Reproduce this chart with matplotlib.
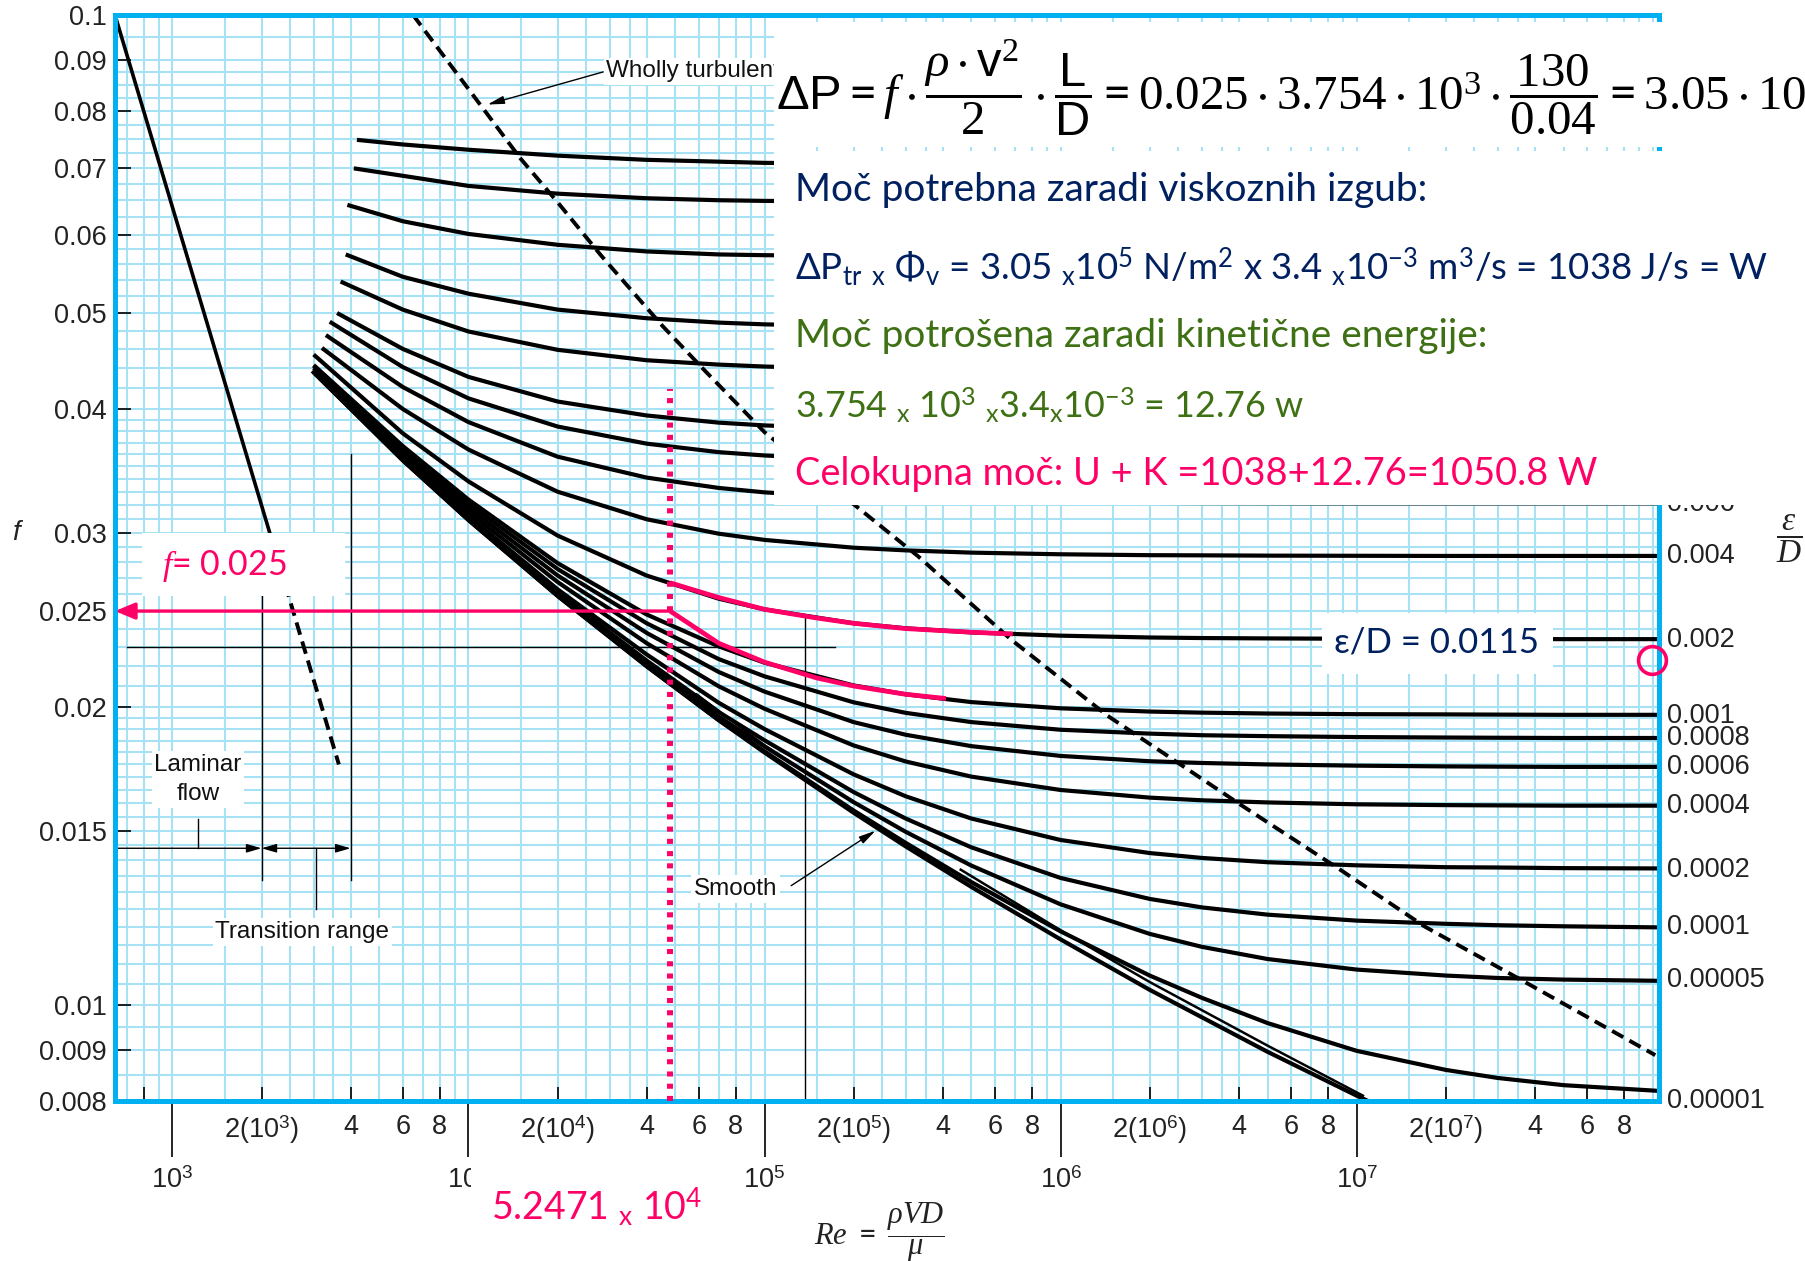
import numpy as np
import matplotlib
matplotlib.use("Agg")
import matplotlib.pyplot as plt
import matplotlib.ticker as mticker
from matplotlib.patches import Rectangle
from matplotlib.transforms import blended_transform_factory

plt.rcParams.update({
    'font.family': ['Liberation Sans', 'DejaVu Sans'],
    'mathtext.fontset': 'custom',
    'mathtext.rm': 'Lato',
    'mathtext.it': 'Liberation Serif:italic',
    'mathtext.bf': 'Lato:bold',
    'mathtext.sf': 'Liberation Sans',
    'mathtext.tt': 'Liberation Serif',
    'mathtext.cal': 'Liberation Serif:italic',
    'mathtext.fallback': 'stix',
})

# ------------------------------------------------------------------ data
RE_GRID = [6e3, 1e4, 2e4, 4e4, 7e4, 1e5, 2e5, 3e5, 5e5, 1e6, 2e6, 3e6, 5e6,
           1e7, 2e7, 3e7, 5e7, 1.05e8]

# right-hand relative roughness labels (the upper ones are hidden by the white panel)
EPS_LABELS = ["0.006", "0.004", "0.002", "0.001", "0.0008", "0.0006", "0.0004",
              "0.0002", "0.0001", "0.00005", "0.00001"]
EPS_LABEL_F = [0.0321, 0.0284, 0.0234, 0.0196, 0.0186, 0.0174, 0.0159,
               0.0137, 0.0120, 0.0106, 0.0080]

RE_START = [4.2e3, 4.1e3, 3.9e3, 3.85e3, 3.7e3, 3.6e3, 3.4e3, 3.3e3, 3.2e3,
            3.0e3, 3.0e3, 3.0e3, 3.0e3, 3.0e3, 3.0e3, 3.0e3, 3.0e3, 3.0e3]
F_START = [0.0748, 0.0700, 0.0643, 0.0573, 0.0538, 0.0500, 0.0490, 0.0475, 0.0461,
           0.0454, 0.0443, 0.0442, 0.0440, 0.0438, 0.0437, 0.04365, 0.0436, 0.04357]

F_E0500 = [0.0740, 0.0731, 0.0721, 0.0714, 0.0711, 0.0709, 0.0708, 0.0708, 0.0708, 0.0708,
           0.0708, 0.0708, 0.0708, 0.0708, 0.0708, 0.0708, 0.0708, 0.0708]
F_E0400 = [0.0688, 0.0672, 0.0660, 0.0653, 0.0650, 0.0649, 0.0648, 0.0647, 0.0647, 0.0647,
           0.0647, 0.0647, 0.0647, 0.0647, 0.0647, 0.0647, 0.0647, 0.0647]
F_E0300 = [0.0619, 0.0601, 0.0586, 0.0577, 0.0573, 0.0572, 0.0571, 0.0570, 0.0570, 0.0570,
           0.0570, 0.0570, 0.0570, 0.0570, 0.0570, 0.0570, 0.0570, 0.0570]
F_E0200 = [0.0544, 0.0523, 0.0504, 0.0494, 0.0489, 0.0487, 0.0485, 0.0485, 0.0484, 0.0484,
           0.0484, 0.0484, 0.0484, 0.0484, 0.0484, 0.0484, 0.0484, 0.0484]
F_E0150 = [0.0504, 0.0479, 0.0459, 0.0448, 0.04435, 0.04415, 0.04393, 0.04384, 0.04378, 0.04373,
           0.0437, 0.0437, 0.0437, 0.0437, 0.0437, 0.0437, 0.0437, 0.0437]
F_E0100 = [0.0460, 0.0431, 0.0407, 0.0394, 0.03875, 0.0385, 0.0382, 0.0381, 0.0380, 0.03795,
           0.03792, 0.0379, 0.0379, 0.0379, 0.0379, 0.0379, 0.0379, 0.0379]
F_E0080 = [0.0441, 0.0410, 0.0384, 0.0369, 0.03618, 0.0359, 0.03555, 0.03543, 0.03533, 0.03527,
           0.03523, 0.03522, 0.03521, 0.0352, 0.0352, 0.0352, 0.0352, 0.0352]
F_E0060 = [0.0421, 0.0388, 0.0358, 0.0341, 0.03329, 0.03295, 0.03254, 0.0324, 0.03229, 0.0322,
           0.03215, 0.03214, 0.03213, 0.03212, 0.03212, 0.03212, 0.03212, 0.03212]
F_E0040 = [0.0400, 0.0364, 0.0330, 0.03095, 0.02993, 0.0295, 0.02897, 0.02879, 0.02864, 0.02853,
           0.02847, 0.02846, 0.02844, 0.02843, 0.02842, 0.02842, 0.02842, 0.02842]
F_E0020 = [0.0378, 0.0338, 0.0298, 0.02715, 0.02573, 0.0251, 0.0243, 0.02402, 0.02379, 0.02361,
           0.02351, 0.02348, 0.02346, 0.02344, 0.02343, 0.02343, 0.02342, 0.02342]
F_E0010 = [0.0367, 0.0324, 0.02795, 0.0248, 0.02303, 0.02217, 0.02103, 0.0206, 0.02023, 0.01994,
           0.01979, 0.01974, 0.0197, 0.01967, 0.01966, 0.01965, 0.01964, 0.01964]
F_E0008 = [0.0365, 0.0321, 0.02757, 0.0243, 0.02236, 0.02148, 0.02022, 0.01973, 0.01931, 0.01897,
           0.0188, 0.01873, 0.01869, 0.01865, 0.01863, 0.01862, 0.01861, 0.01861]
F_E0006 = [0.03624, 0.0318, 0.02716, 0.02376, 0.0217, 0.02073, 0.01931, 0.01875, 0.01826, 0.01785,
           0.01763, 0.01756, 0.0175, 0.01745, 0.01742, 0.01741, 0.0174, 0.0174]
F_E0004 = [0.0360, 0.0315, 0.02675, 0.0232, 0.02099, 0.01992, 0.01829, 0.01762, 0.01701, 0.01649,
           0.0162, 0.0161, 0.01602, 0.01595, 0.01592, 0.01591, 0.0159, 0.0159]
F_E0002 = [0.03576, 0.0312, 0.0263, 0.0226, 0.0202, 0.0190, 0.0171, 0.01625, 0.01543, 0.01468,
           0.01424, 0.01408, 0.01394, 0.01384, 0.01378, 0.01377, 0.01375, 0.01374]
F_E0001 = [0.03565, 0.0310, 0.0261, 0.02228, 0.01977, 0.01851, 0.01641, 0.01543, 0.01443, 0.01344,
           0.0128, 0.01255, 0.01234, 0.01217, 0.01208, 0.01204, 0.01201, 0.01198]
F_E00005 = [0.03557, 0.03095, 0.02599, 0.02212, 0.01956, 0.01825, 0.01603, 0.01496, 0.01383, 0.01264,
            0.0118, 0.01145, 0.01113, 0.01086, 0.01071, 0.01065, 0.01061, 0.01058]
F_E00001 = [0.0355, 0.0309, 0.0259, 0.0220, 0.0194, 0.01804, 0.01572, 0.01458, 0.01331, 0.01187,
            0.01071, 0.01017, 0.00959, 0.00899, 0.0086, 0.00844, 0.0083, 0.00819]

RE_SMOOTH = [3e3, 6e3, 1e4, 2e4, 4e4, 7e4, 1e5, 2e5, 3e5, 5e5, 1e6, 2e6, 3e6, 5e6, 1e7, 2e7]
F_SMOOTH = [0.04355, 0.0355, 0.0309, 0.0259, 0.02198, 0.0194, 0.01799, 0.01564, 0.01446,
            0.01316, 0.01165, 0.01036, 0.00972, 0.00897, 0.0081, 0.00735]

# doubled (scan) line pieces next to the smooth curve
RE_DBL1 = [5.9e4, 1.0e5, 1.45e5]
F_DBL1 = [0.0206, 0.0183, 0.0170]
RE_DBL2 = [4.6e5, 1e6, 2e6, 5e6, 1.05e7]
F_DBL2 = [0.0137, 0.0119, 0.01055, 0.0091, 0.0081]

# laminar flow
RE_LAM = [640, 2300]
F_LAM = [0.100, 0.0278]
RE_LAM_DASH = [2300, 3650]
F_LAM_DASH = [0.0278, 0.0175]

# "wholly turbulent" boundary
RE_WT = [6.5e3, 1.5e4, 2.0e4, 2.8e4, 4.5e4, 6.3e4, 1.0e5, 3.3e5, 6.8e5, 1.44e6, 4.1e6, 8.8e6, 1.7e7, 3.6e7, 1.02e8]
F_WT = [0.100, 0.0716, 0.0647, 0.0572, 0.0486, 0.0437, 0.0379, 0.0284, 0.0234, 0.0196, 0.0159, 0.0137, 0.0120, 0.0106, 0.0089]

# thin black guide lines of the original chart
RE_HLINE = [700, 1.73e5]
F_HLINE = 0.0230
RE_VLINES = [2e3, 4e3, 1.37e5]
F_VLINES_TOP = [0.0270, 0.0360, 0.0247]
F_VLINES_BOT = [0.01337, 0.01337, 0.008]
F_RANGE_ARROW = 0.0144
RE_RANGE = [640, 2e3, 4e3]
RE_LAM_STUB, F_LAM_STUB = 1.22e3, [0.0154, 0.0144]
RE_TR_STUB, F_TR_STUB = 3.05e3, [0.0144, 0.0125]

# pink (worked example)
RE_PINK = 4.8e4
F_PINK = 0.025
F_PINK_TOP = 0.0419
RE_PU = [4.8e4, 7e4, 1e5, 1.5e5, 2e5, 3e5, 5e5, 6.9e5]
F_PU = [0.0267, 0.0258, 0.0251, 0.0246, 0.0243, 0.0240, 0.0238, 0.0237]
RE_PL = [4.8e4, 7e4, 1e5, 1.5e5, 2e5, 3e5, 4.1e5]
F_PL = [0.0250, 0.0232, 0.0222, 0.0214, 0.0210, 0.0206, 0.0204]
F_CIRCLE = 0.0223

# axis ticks
F_TICKS = [0.1, 0.09, 0.08, 0.07, 0.06, 0.05, 0.04, 0.03, 0.025, 0.02, 0.015, 0.01, 0.009, 0.008]
F_TICK_LABELS = ["0.1", "0.09", "0.08", "0.07", "0.06", "0.05", "0.04", "0.03", "0.025",
                 "0.02", "0.015", "0.01", "0.009", "0.008"]
RE_MAJOR = [1e3, 1e4, 1e5, 1e6, 1e7]
RE_MAJOR_LABELS = [r"10$^{\mathsf{%d}}$" % k for k in [3, 4, 5, 6, 7]]
RE_MINOR = [8e2, 2e3, 4e3, 6e3, 8e3, 2e4, 4e4, 6e4, 8e4, 2e5, 4e5, 6e5, 8e5,
            2e6, 4e6, 6e6, 8e6, 2e7, 4e7, 6e7, 8e7]
RE_MINOR_LABELS = [""]
for k in [3, 4, 5, 6, 7]:
    RE_MINOR_LABELS += [r"2(10$^{\mathsf{%d}}$)" % k, "4", "6", "8"]

GRID_MULT_X = [1, 1.5, 2, 2.5, 3, 3.5, 4, 5, 6, 7, 8, 9]

# ------------------------------------------------------------------ styling
W, H = 1806, 1261
CYAN = "#00B0F0"
GRID_C = "#A6E1F4"
PINK = "#FF0066"
NAVY = "#002060"
GREEN = "#3E7014"
XMIN, XMAX = 640, 1.05e8
YMIN, YMAX = 0.008, 0.1
CURVE_LW = 3.0

fig = plt.figure(figsize=(W / 100, H / 100), dpi=100)
fig.patch.set_facecolor("white")
ax = fig.add_axes([115 / W, 1 - 1101 / H, (1659 - 115) / W, (1101 - 15) / H])
ax.set_facecolor("white")
ax.set_xscale("log")
ax.set_yscale("log")
ax.set_xlim(XMIN, XMAX)
ax.set_ylim(YMIN, YMAX)

# grid
gx = [m * 10 ** d for d in range(2, 9) for m in GRID_MULT_X if XMIN <= m * 10 ** d <= XMAX]
gy = np.concatenate([np.arange(0.008, 0.01999, 0.0005), np.arange(0.02, 0.03999, 0.001),
                     np.arange(0.04, 0.05999, 0.002), np.arange(0.06, 0.08999, 0.0025),
                     [0.09, 0.095, 0.1]])
ax.vlines(gx, YMIN, YMAX, colors=GRID_C, lw=1.5, zorder=0.5)
ax.hlines(gy, XMIN, XMAX, colors=GRID_C, lw=1.5, zorder=0.5)

for sp in ax.spines.values():
    sp.set_color(CYAN)
    sp.set_linewidth(3.6)
    sp.set_zorder(6)

# ticks
ax.yaxis.set_major_locator(mticker.FixedLocator(F_TICKS))
ax.yaxis.set_major_formatter(mticker.FixedFormatter(F_TICK_LABELS))
ax.yaxis.set_minor_locator(mticker.NullLocator())
ax.tick_params(axis="y", which="major", direction="in", length=11.5, width=1.2,
               pad=6, labelsize=19.5, labelcolor="#222222", color="black")
ax.xaxis.set_major_locator(mticker.FixedLocator(RE_MAJOR))
ax.xaxis.set_major_formatter(mticker.FixedFormatter(RE_MAJOR_LABELS))
ax.xaxis.set_minor_locator(mticker.FixedLocator(RE_MINOR))
ax.xaxis.set_minor_formatter(mticker.FixedFormatter(RE_MINOR_LABELS))
ax.tick_params(axis="x", which="major", direction="out", length=40, width=1.2,
               pad=8, labelsize=19.5, labelcolor="#222222", color="black")
ax.tick_params(axis="x", which="minor", direction="in", length=10, width=1.2,
               pad=9, labelsize=19.5, labelcolor="#222222", color="black")

# curves
curves = [F_E0500, F_E0400, F_E0300, F_E0200, F_E0150, F_E0100, F_E0080, F_E0060,
          F_E0040, F_E0020, F_E0010, F_E0008, F_E0006, F_E0004, F_E0002, F_E0001,
          F_E00005, F_E00001]
for r0, f0, fl in zip(RE_START, F_START, curves):
    ax.plot([r0] + RE_GRID, [f0] + fl, color="black", lw=CURVE_LW,
            solid_joinstyle="round", solid_capstyle="butt", zorder=3)
ax.plot(RE_SMOOTH, F_SMOOTH, color="black", lw=CURVE_LW, solid_joinstyle="round", zorder=3)
ax.plot(RE_DBL1, F_DBL1, color="black", lw=1.6, zorder=3)
ax.plot(RE_DBL2, F_DBL2, color="black", lw=1.8, zorder=3)

ax.plot(RE_LAM, F_LAM, color="black", lw=2.6, zorder=3)
ax.plot(RE_LAM_DASH, F_LAM_DASH, color="black", lw=2.8, dashes=(3.3, 1.8), zorder=3)
ax.plot(RE_WT, F_WT, color="black", lw=2.8, dashes=(3.3, 1.8), zorder=3)

# thin guide lines
ax.plot(RE_HLINE, [F_HLINE, F_HLINE], color="black", lw=1.0, zorder=2)
for r, t, b in zip(RE_VLINES, F_VLINES_TOP, F_VLINES_BOT):
    ax.plot([r, r], [b, t], color="black", lw=1.0, zorder=2)
ax.plot([RE_LAM_STUB] * 2, F_LAM_STUB, color="black", lw=1.0, zorder=2)
ax.plot([RE_TR_STUB] * 2, F_TR_STUB, color="black", lw=1.0, zorder=2)
ax.annotate("", xy=(RE_RANGE[1], F_RANGE_ARROW), xytext=(RE_RANGE[0], F_RANGE_ARROW),
            arrowprops=dict(arrowstyle="-|>,head_length=0.45,head_width=0.13", lw=1.0,
                            color="black", shrinkA=0, shrinkB=0, mutation_scale=20), zorder=2)
ax.annotate("", xy=(RE_RANGE[2], F_RANGE_ARROW), xytext=(RE_RANGE[1], F_RANGE_ARROW),
            arrowprops=dict(arrowstyle="<|-|>,head_length=0.45,head_width=0.13", lw=1.0,
                            color="black", shrinkA=0, shrinkB=0, mutation_scale=20), zorder=2)

lab = dict(fontsize=17.5, color="#111111", zorder=4,
           bbox=dict(facecolor="white", edgecolor="none", pad=2))
ax.text(1.22e3, 0.0169, "Laminar\nflow", ha="center", va="center", linespacing=1.4, **lab)
ax.text(2.75e3, 0.01185, "Transition range", ha="center", va="center", **lab)
ax.text(8.0e4, 0.0131, "Smooth", ha="center", va="center", **lab)
ax.text(2.92e4, 0.0877, "Wholly turbulent", ha="left", va="center", **lab)
ax.annotate("", xy=(2.37e5, 0.0150), xytext=(1.23e5, 0.0132),
            arrowprops=dict(arrowstyle="-|>,head_length=0.5,head_width=0.12", lw=1.0,
                            color="black", shrinkA=0, shrinkB=0, mutation_scale=20), zorder=4)
ax.annotate("", xy=(1.16e4, 0.0812), xytext=(2.85e4, 0.0876),
            arrowprops=dict(arrowstyle="-|>,head_length=0.5,head_width=0.12", lw=1.0,
                            color="black", shrinkA=0, shrinkB=0, mutation_scale=20), zorder=4)

# right-hand epsilon/D labels
for s, f in zip(EPS_LABELS, EPS_LABEL_F):
    ax.annotate(s, xy=(1.0, f), xycoords=("axes fraction", "data"), xytext=(6, 0),
                textcoords="offset points", ha="left", va="center", fontsize=19.5,
                color="#222222", annotation_clip=False)

# ---- pink worked example
def fig_rect(x0, y0, x1, y1, target, z):
    r = Rectangle((x0 / W, 1 - y1 / H), (x1 - x0) / W, (y1 - y0) / H,
                  transform=fig.transFigure, facecolor="white", edgecolor="none",
                  zorder=z, clip_on=False)
    target.add_artist(r)

fig_rect(142, 533, 345, 596, ax, 5)      # box behind "f = 0.025"
fig_rect(1322, 613, 1553, 674, ax, 5)    # box behind "eps/D = 0.0115"

ax.plot([RE_PINK, RE_PINK], [YMIN, F_PINK_TOP], color=PINK, lw=4.3,
        linestyle=(0, (0.85, 1.2)), dash_capstyle="butt", zorder=7)
ax.annotate("", xy=(0.0, F_PINK), xycoords=("axes fraction", "data"),
            xytext=(RE_PINK, F_PINK), textcoords="data",
            arrowprops=dict(arrowstyle="-|>,head_length=0.6,head_width=0.25", lw=2.4,
                            color=PINK, shrinkA=0, shrinkB=0, mutation_scale=20), zorder=7)
ax.plot(RE_PU, F_PU, color=PINK, lw=3.4, solid_capstyle="butt", zorder=7)
ax.plot(RE_PL, F_PL, color=PINK, lw=3.4, solid_capstyle="butt", zorder=7)
ax.plot([0.9955], [F_CIRCLE], transform=blended_transform_factory(ax.transAxes, ax.transData),
        marker="o", ms=20, mfc="none", mec=PINK, mew=2.6, clip_on=False, zorder=8)

def ftext(x, y, s, **kw):
    return fig.text(x / W, 1 - y / H, s, **kw)

ftext(224, 566, r"$\mathit{f}$= 0.025", ha="center", va="center", fontsize=24.5,
      color=PINK, family="Lato", zorder=9)
ftext(1437, 643, "ε/D = 0.0115", ha="center", va="center", fontsize=25,
      color=NAVY, family=["Lato", "DejaVu Serif"], zorder=9)

# ---- white panel over the upper right with the calculation
fig_rect(774, 22, W, 147, fig, 10)
fig_rect(774, 151, W, 505, fig, 10)
fig_rect(1662, 140, W, 160, fig, 10)
fig_rect(471, 1165, 712, 1245, fig, 10)

EQ = (r"$\mathsf{\Delta P}=\mathit{f}\cdot\dfrac{\rho\cdot\mathsf{v}^{\mathtt{2}}}{\mathtt{2}}"
      r"\cdot\dfrac{\mathsf{L}}{\mathsf{D}}=\mathtt{0.025}\cdot\mathtt{3.754}\cdot"
      r"\mathtt{10}^{\mathtt{3}}\cdot\dfrac{\mathtt{130}}{\mathtt{0.04}}=\mathtt{3.05}\cdot\mathtt{10}$")
ftext(776, 88, EQ, ha="left", va="center", fontsize=35.2, color="black", zorder=12)

txt = dict(ha="left", va="center", family="Lato", zorder=12)
ftext(795, 190, "Moč potrebna zaradi viskoznih izgub:", color=NAVY, fontsize=28, **txt)
ftext(795, 267, r"$\Delta$P$_{\mathrm{tr}}$ $_{\mathrm{x}}$ $\Phi_{\mathrm{v}}$ = 3.05 "
      r"$_{\mathrm{x}}$10$^{5}$ N/m$^{2}$ x 3.4 $_{\mathrm{x}}$10$^{-3}$ m$^{3}$/s = 1038 J/s = W",
      color=NAVY, fontsize=26.4, **txt)
ftext(795, 336, "Moč potrošena zaradi kinetične energije:", color=GREEN, fontsize=28, **txt)
ftext(795, 405, r"3.754 $_{\mathrm{x}}$ 10$^{3}$ $_{\mathrm{x}}$3.4$_{\mathrm{x}}$10$^{-3}$ = 12.76 w",
      color=GREEN, fontsize=25.8, **txt)
ftext(795, 474, "Celokupna moč: U + K =1038+12.76=1050.8 W", color=PINK, fontsize=27.4, **txt)

ftext(597, 1207, r"5.2471 $_{\mathrm{x}}$ 10$^{4}$", ha="center", va="center", fontsize=27,
      color=PINK, family="Lato", zorder=12)

# axis titles
ftext(16, 533, "f", ha="center", va="center", fontsize=20, style="italic", color="#222222")
ftext(1789, 539, r"$\dfrac{\epsilon}{D}$", ha="center", va="center", fontsize=24, color="#222222")
ftext(879, 1232, r"$Re\ =\ \dfrac{\rho VD}{\mu}$", ha="center", va="center", fontsize=22,
      color="#222222")

fig.savefig("out.png", dpi=100)
